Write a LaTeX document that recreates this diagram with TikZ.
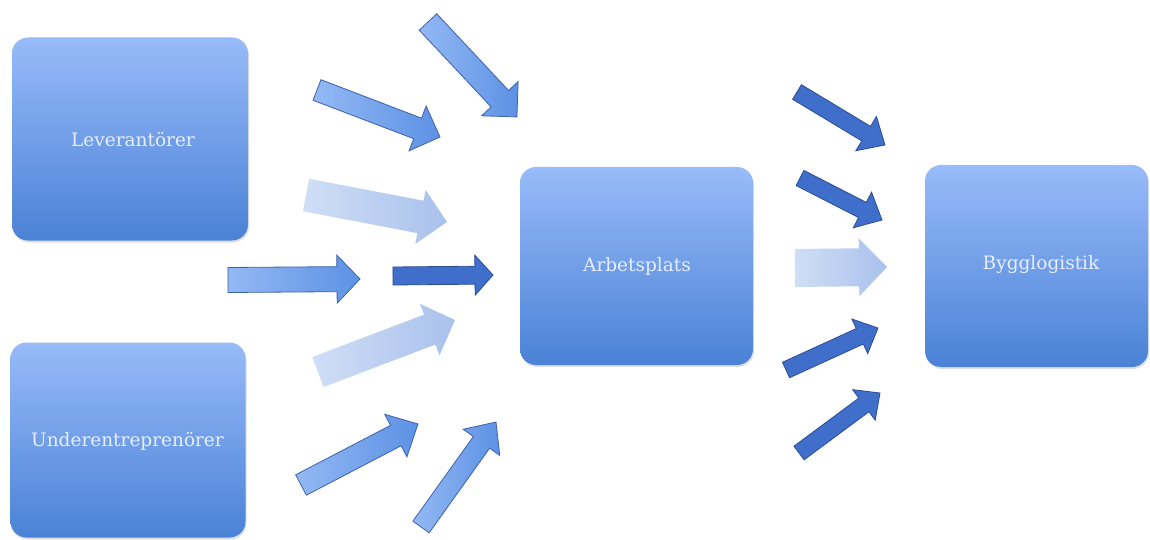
\documentclass[tikz,border=0pt]{standalone}
\usepackage{fontspec}
\setmainfont{DejaVu Serif}
\usetikzlibrary{shadows}
\definecolor{boxtop}{HTML}{98BBF9}
\definecolor{boxbot}{HTML}{4A82D6}
\definecolor{medA}{HTML}{94B9F4}
\definecolor{medB}{HTML}{5C91E4}
\definecolor{medline}{HTML}{3D62A8}
\definecolor{darkfill}{HTML}{3F6FCA}
\definecolor{darkline}{HTML}{2C4C94}
\definecolor{liteA}{HTML}{D0DEF6}
\definecolor{liteB}{HTML}{A9C1EC}
\definecolor{txt}{HTML}{E6EEFF}
\tikzset{
  box/.style={rounded corners=16pt, top color=boxtop, bottom color=boxbot, draw=none,
    drop shadow={opacity=0.25, shadow xshift=1pt, shadow yshift=-2pt},
    text=txt, font=\fontsize{18.5}{22}\selectfont, inner sep=0pt},
  medarrow/.style={left color=medA, right color=medB, draw=medline, line width=0.8pt, line join=miter},
  darkarrow/.style={fill=darkfill, draw=darkline, line width=0.8pt, line join=miter},
  litearrow/.style={left color=liteA, right color=liteB, draw=none}
}
% #1 style, #2 x1, #3 y1, #4 x2, #5 y2, #6 shaft width, #7 head width, #8 head length
\newcommand{\blockarrow}[8]{%
  \pgfmathsetmacro\bkang{atan2(-(#5-#3),#4-#2)}%
  \pgfmathsetmacro\bklen{veclen(#4-#2,#5-#3)}%
  \pgfmathsetmacro\bkbase{\bklen-#8}%
  \begin{scope}[shift={(#2,#3)}, rotate=\bkang]
    \path[#1] (0,-#6/2) -- (\bkbase,-#6/2) -- (\bkbase,-#7/2) -- (\bklen,0)
      -- (\bkbase,#7/2) -- (\bkbase,#6/2) -- (0,#6/2) -- cycle;
  \end{scope}}
\begin{document}
\begin{tikzpicture}[x=1pt,y=-1pt]
\useasboundingbox (0,0) rectangle (1150,540);
\fill[white] (0,0) rectangle (1150,540);
\node[box, minimum width=236pt, minimum height=203pt] (lev) at (130,139) {};
\node[box, minimum width=235pt, minimum height=195pt] (und) at (128,440) {};
\node[box, minimum width=233pt, minimum height=198pt] (arb) at (636.5,266) {};
\node[box, minimum width=223pt, minimum height=202pt] (byg) at (1036.5,266) {};
\tikzset{lbl/.style={text=txt, font=\fontsize{18.5}{22}\selectfont, inner sep=0pt}}
\node[lbl] (levt) at (133,140) {Leverantörer};
\node[lbl] (undt) at (127.5,441) {Underentreprenörer};
\node[lbl] (arbt) at (637,266) {Arbetsplats};
\node[lbl] (bygt) at (1041,265) {Bygglogistik};
% left group
\blockarrow{medarrow}{428}{22}{517}{117}{24}{50}{25}
\blockarrow{medarrow}{317}{90}{440}{137}{22}{48}{24}
\blockarrow{litearrow}{306}{195}{447}{222}{33}{55}{27}
\blockarrow{medarrow}{228}{280}{360}{279}{25}{48}{23}
\blockarrow{darkarrow}{393}{276}{493}{275}{18}{40}{18}
\blockarrow{litearrow}{318}{372}{455}{320}{32}{55}{27}
\blockarrow{medarrow}{301}{485}{418}{424}{23}{48}{25}
\blockarrow{medarrow}{421}{527}{496}{422}{20}{45}{25}
% right group
\blockarrow{darkarrow}{797}{92}{885}{145}{17}{40}{22}
\blockarrow{darkarrow}{800}{178}{882}{220}{17}{40}{22}
\blockarrow{litearrow}{795}{268}{887}{267}{38}{58}{28}
\blockarrow{darkarrow}{786}{370}{878}{328}{17}{38}{20}
\blockarrow{darkarrow}{799}{453}{880}{393}{17}{38}{20}
\end{tikzpicture}
\end{document}
